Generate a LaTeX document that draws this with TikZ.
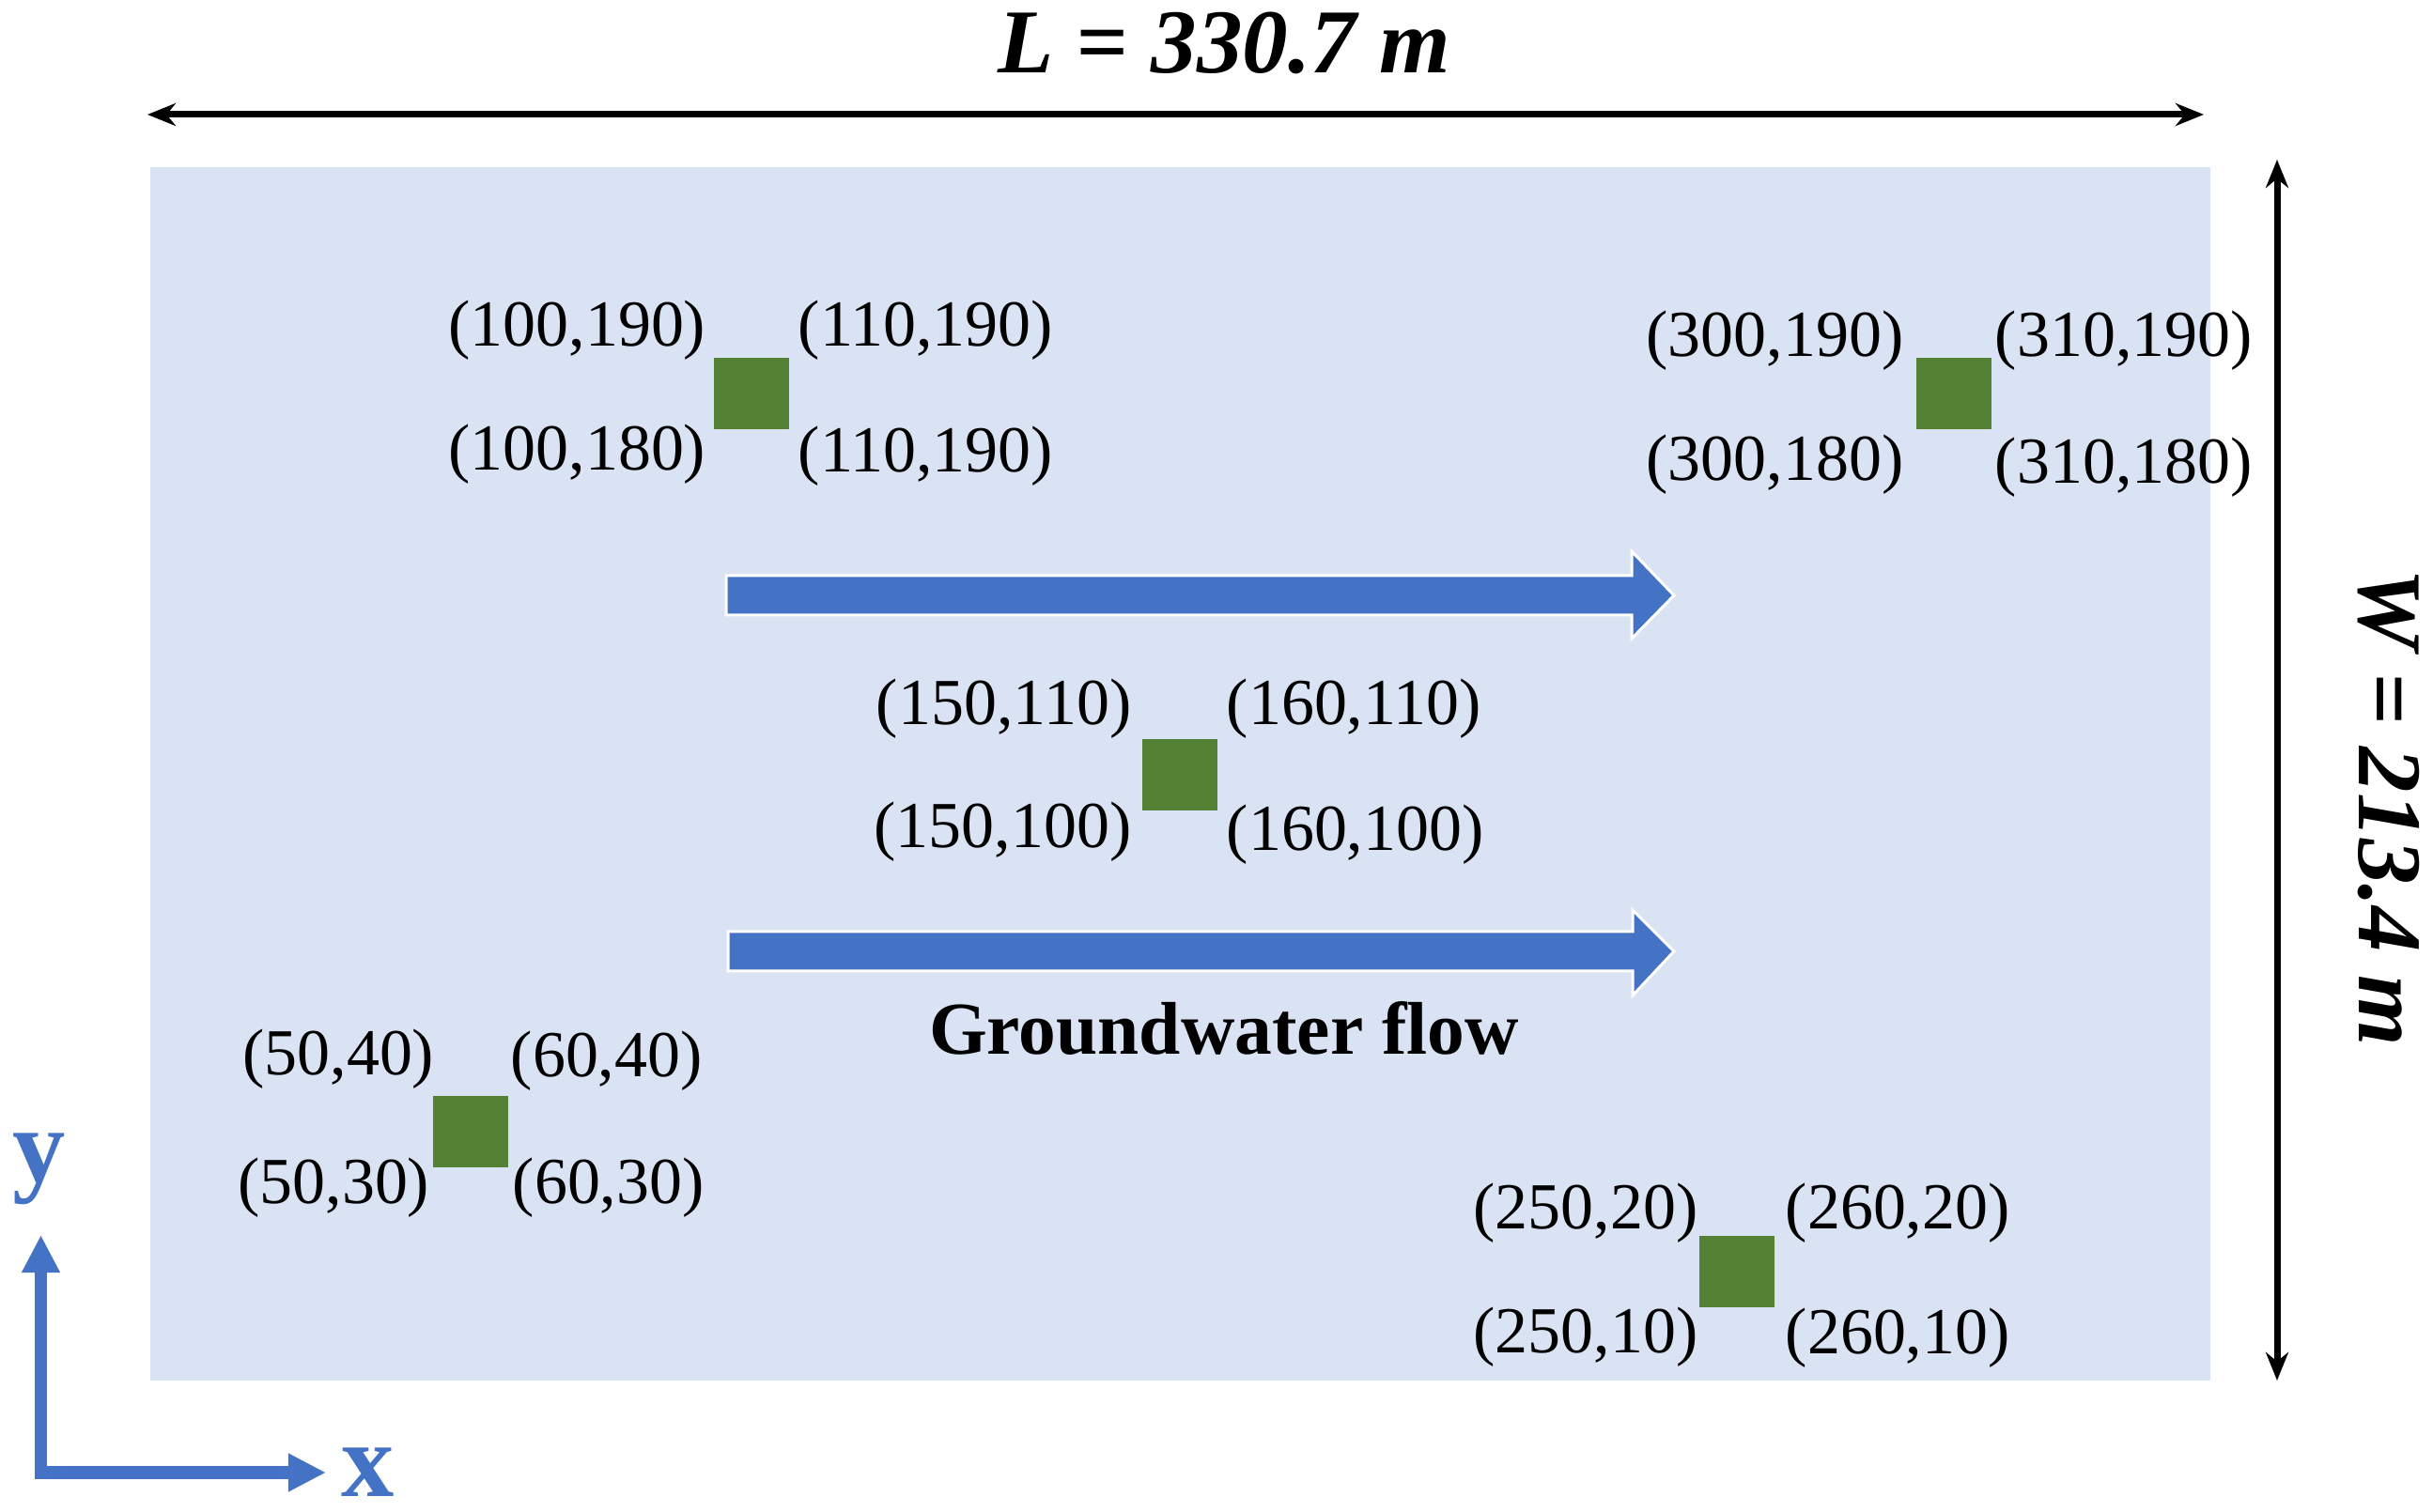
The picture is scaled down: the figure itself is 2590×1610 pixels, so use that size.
\documentclass[tikz,border=0pt]{standalone}
\usepackage{fontspec}
\setmainfont{Liberation Serif}
\usetikzlibrary{arrows.meta}
\definecolor{bgblue}{HTML}{DAE3F3}
\definecolor{arrblue}{HTML}{4472C4}
\definecolor{wellgreen}{HTML}{548235}
\begin{document}
\begin{tikzpicture}[x=0.01cm,y=-0.01cm,
  lbl/.style={inner sep=0pt, font=\fontsize{19.9}{24}\selectfont},
  well/.style={fill=wellgreen, draw=none, minimum width=0.8cm, minimum height=0.75cm, inner sep=0pt},
  flow/.style={fill=arrblue, draw=white, line width=0.03cm},
  dim/.style={line width=0.07cm, {Stealth[length=0.3cm,width=0.24cm]}-{Stealth[length=0.3cm,width=0.24cm]}},
  dimlbl/.style={inner sep=0pt, font=\fontsize{27.6}{32}\selectfont\bfseries\itshape},
  axis/.style={arrblue, line width=0.13cm, line join=miter, {Triangle[length=0.4cm,width=0.38cm]}-{Triangle[length=0.4cm,width=0.38cm]}},
  axlbl/.style={inner sep=0pt, text=arrblue, font=\fontsize{32}{36}\selectfont\bfseries}]
\useasboundingbox (0,0) rectangle (2590,1610);
\fill[white] (0,0) rectangle (2590,1610);
% domain
\fill[bgblue] (160,178) rectangle (2353,1470);
% dimensions
\coordinate (lA) at (157,122);
\coordinate (lB) at (2346,122);
\draw[dim] (lA) -- (lB);
\node[dimlbl, anchor=base] (Ltxt) at (1303,78) {L = 330.7 m};
\coordinate (wA) at (2424,170);
\coordinate (wB) at (2424,1470);
\draw[dim] (wA) -- (wB);
\node[dimlbl, rotate=-90, anchor=base] (Wtxt) at (2511,860) {W = 213.4 m};
% flow arrows
\path[flow] (773,613) -- (1737,613) -- (1737,587) -- (1782,634) -- (1737,680) -- (1737,655) -- (773,655) -- cycle;
\path[flow] (775,992) -- (1738,992) -- (1738,969) -- (1782,1013) -- (1738,1060) -- (1738,1034) -- (775,1034) -- cycle;
\node[inner sep=0pt, font=\fontsize{22.6}{26}\selectfont\bfseries, anchor=base] (gw) at (1303,1123) {Groundwater flow};
% well 1
\node[well] (w1) at (800,419) {};
\node[lbl, anchor=base east] (w1ul) at (752,369) {(100,190)};
\node[lbl, anchor=base west] (w1ur) at (849,369) {(110,190)};
\node[lbl, anchor=base east] (w1ll) at (752,501) {(100,180)};
\node[lbl, anchor=base west] (w1lr) at (849,503) {(110,190)};
% well 2
\node[well] (w2) at (2080,419) {};
\node[lbl, anchor=base east] (w2ul) at (2027,380) {(300,190)};
\node[lbl, anchor=base west] (w2ur) at (2123,380) {(310,190)};
\node[lbl, anchor=base east] (w2ll) at (2027,512) {(300,180)};
\node[lbl, anchor=base west] (w2lr) at (2123,515) {(310,180)};
% well 3
\node[well] (w3) at (1256,825) {};
\node[lbl, anchor=base east] (w3ul) at (1205,772) {(150,110)};
\node[lbl, anchor=base west] (w3ur) at (1305,772) {(160,110)};
\node[lbl, anchor=base east] (w3ll) at (1205,903) {(150,100)};
\node[lbl, anchor=base west] (w3lr) at (1305,906) {(160,100)};
% well 4
\node[well] (w4) at (501,1205) {};
\node[lbl, anchor=base east] (w4ul) at (463,1145) {(50,40)};
\node[lbl, anchor=base west] (w4ur) at (543,1147) {(60,40)};
\node[lbl, anchor=base east] (w4ll) at (458,1282) {(50,30)};
\node[lbl, anchor=base west] (w4lr) at (545,1282) {(60,30)};
% well 5
\node[well] (w5) at (1849,1354) {};
\node[lbl, anchor=base east] (w5ul) at (1808,1308) {(250,20)};
\node[lbl, anchor=base west] (w5ur) at (1900,1308) {(260,20)};
\node[lbl, anchor=base east] (w5ll) at (1808,1440) {(250,10)};
\node[lbl, anchor=base west] (w5lr) at (1900,1442) {(260,10)};
% axes
\coordinate (oy) at (43.5,1315);
\coordinate (o) at (43.5,1568);
\coordinate (ox) at (347,1568);
\draw[axis] (oy) -- (o) -- (ox);
\node[axlbl, anchor=base] (ylbl) at (42,1258) {y};
\node[axlbl, anchor=base] (xlbl) at (392,1593) {x};
\end{tikzpicture}
\end{document}
